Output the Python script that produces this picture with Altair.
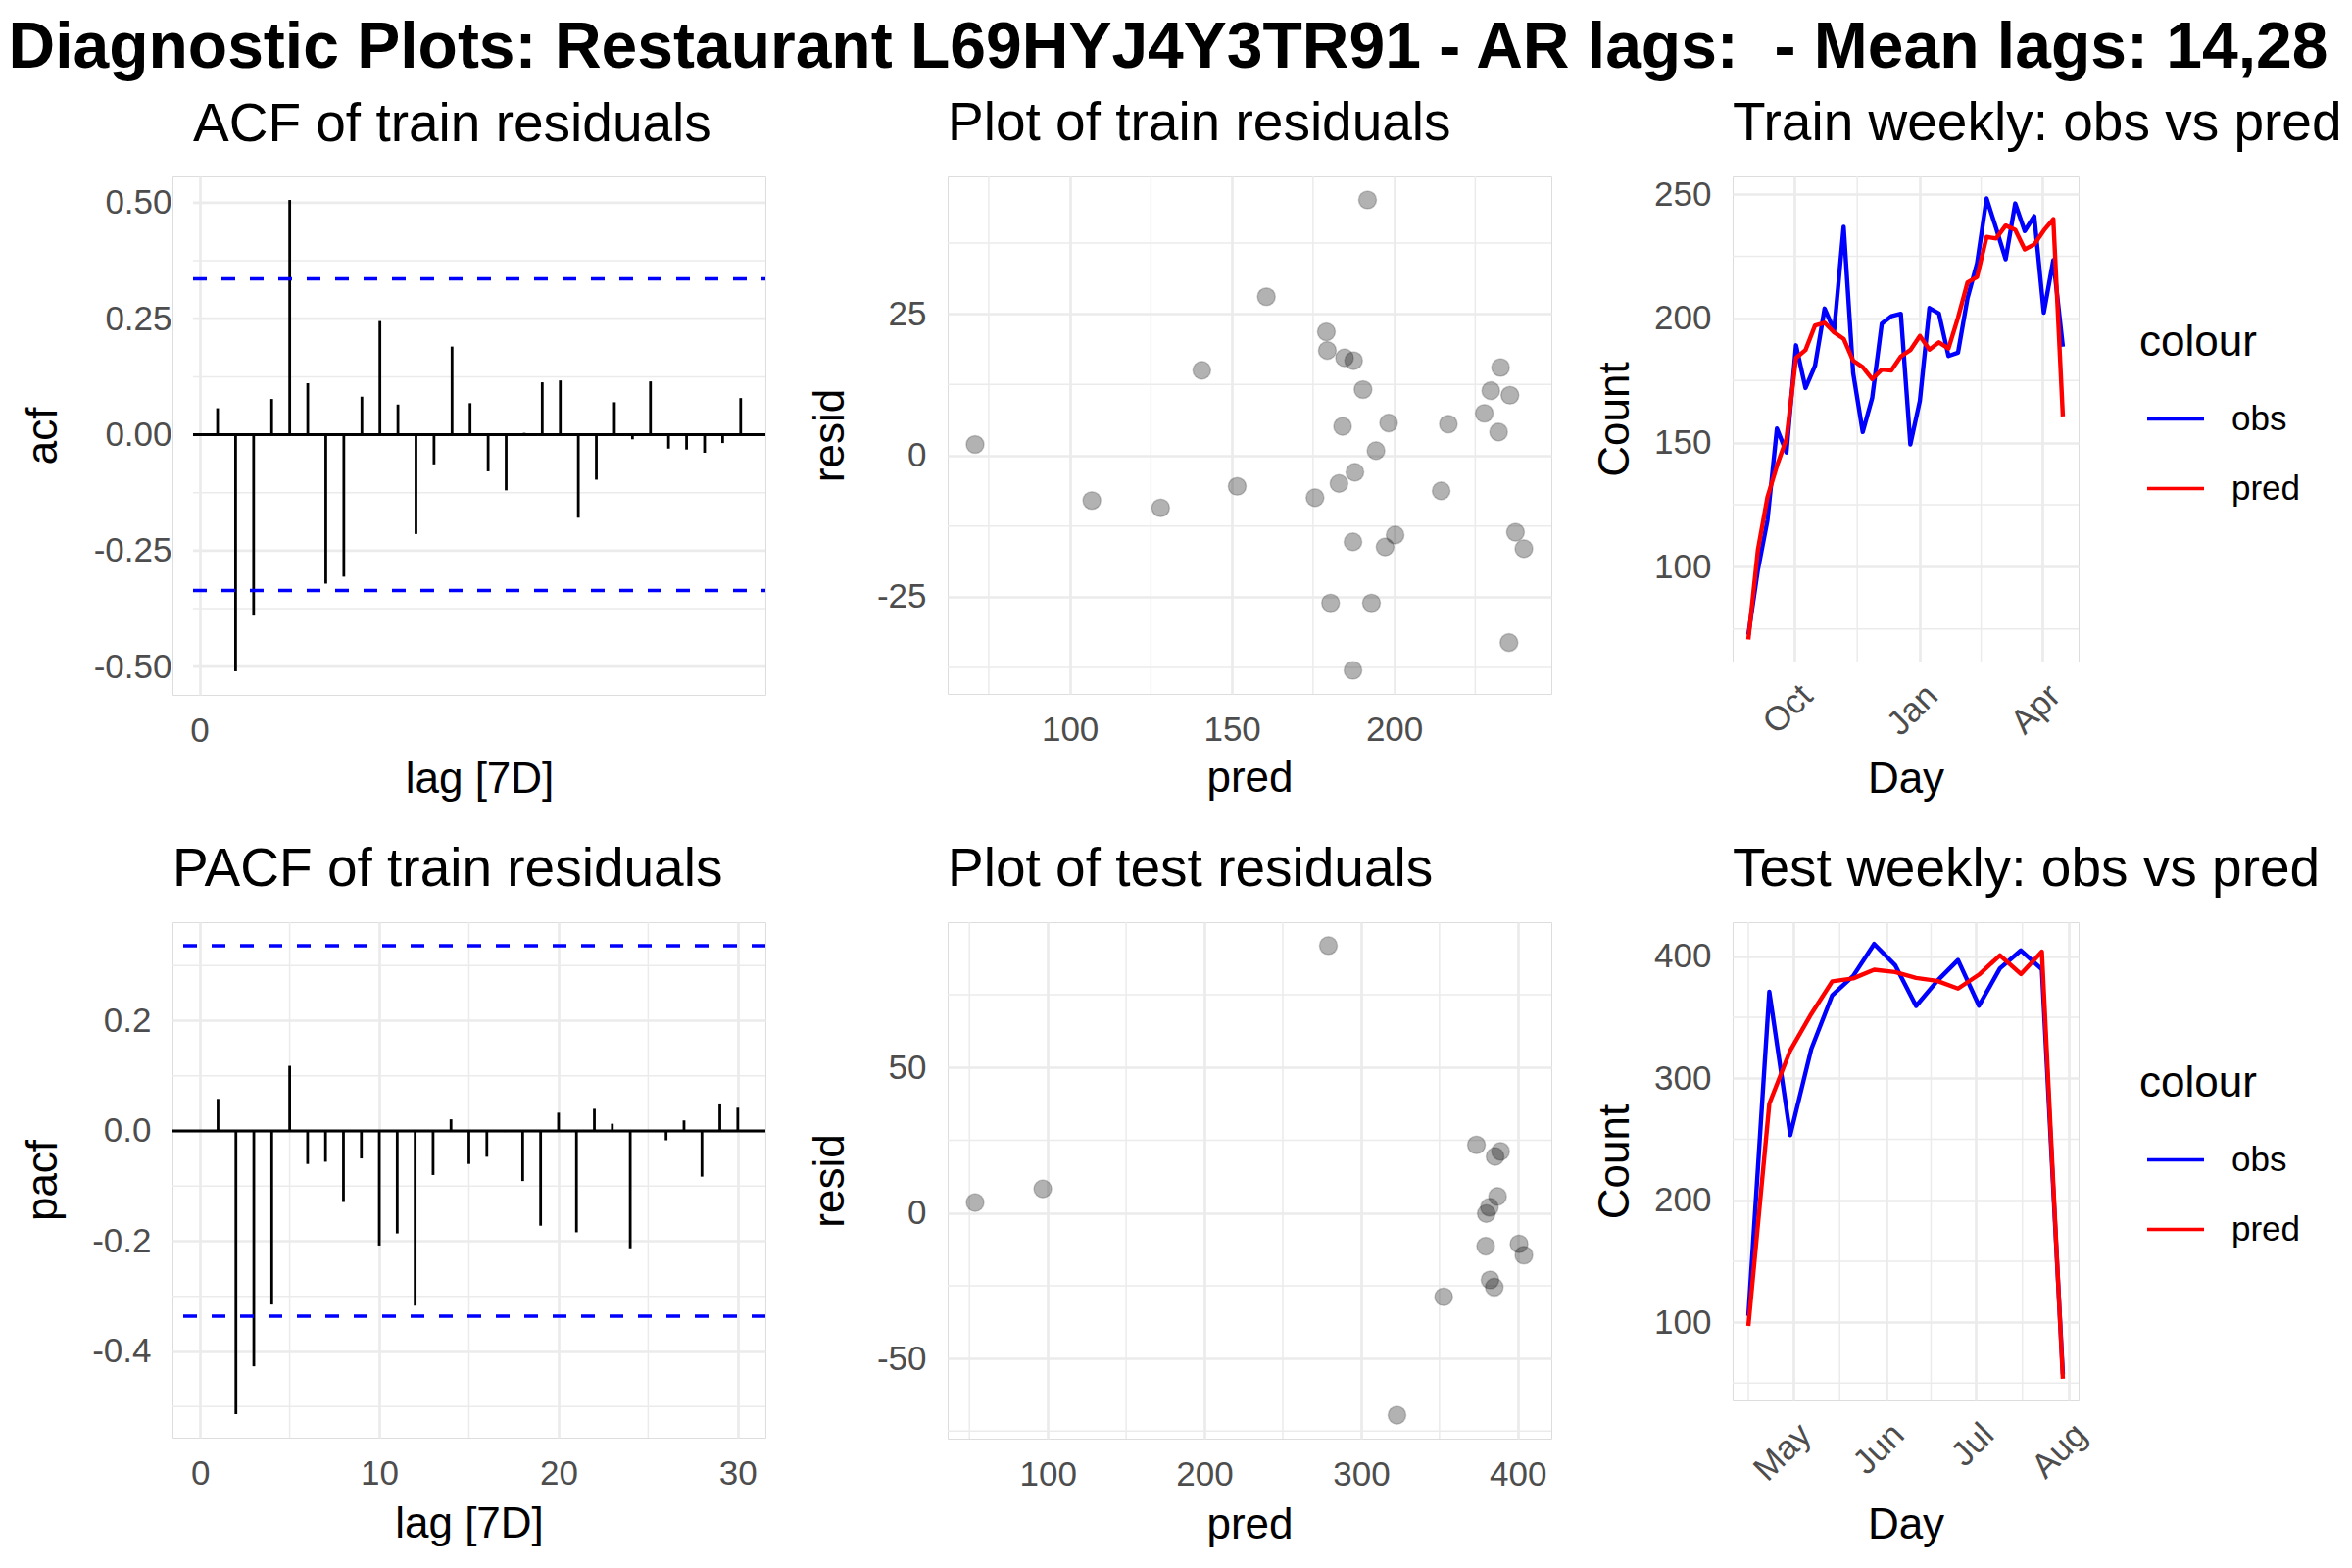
import altair as alt
import pandas as pd

FONT = "Liberation Sans"
GRID = "#EBEBEB"
AXIS_TXT = "#4D4D4D"
OBS_C = "#0000FF"
PRED_C = "#FF0000"

# ---------------- data ----------------
acf_lags = list(range(1, 31))
acf_vals = [0.057, -0.510, -0.390, 0.077, 0.506, 0.111, -0.321, -0.306, 0.082, 0.245,
            0.065, -0.214, -0.064, 0.190, 0.068, -0.079, -0.120, 0.004, 0.113, 0.117,
            -0.179, -0.097, 0.070, -0.010, 0.115, -0.030, -0.032, -0.039, -0.018, 0.079]
pacf_lags = list(range(1, 31))
pacf_vals = [0.058, -0.514, -0.427, -0.315, 0.118, -0.060, -0.056, -0.129, -0.050, -0.208,
             -0.186, -0.317, -0.080, 0.021, -0.060, -0.047, -0.002, -0.091, -0.172, 0.033,
             -0.184, 0.040, 0.013, -0.213, 0.001, -0.017, 0.019, -0.083, 0.048, 0.042]
conf_bound = 0.336

train_start = "2016-08-28"
train_pred = [70.8, 106.8, 128.0, 140.7, 151.6, 184.1, 187.3, 197.2, 198.3, 194.4,
              191.8, 183.0, 180.4, 175.6, 179.4, 179.1, 184.7, 187.3, 193.0, 187.5,
              190.4, 187.9, 200.3, 214.5, 216.7, 232.8, 232.2, 237.4, 235.7, 227.8,
              229.8, 235.4, 240.0, 160.6]
train_resid = [1.9, -8.0, -9.3, 15.0, -5.5, 5.1, -15.3, -16.2, 5.7, 0.8,
               45.1, -5.0, -26.1, -7.5, 18.5, 21.8, 17.2, -38.0, -26.1, 16.7,
               11.6, -3.0, -14.1, -6.3, 5.5, 15.5, 4.1, -13.6, 10.6, 7.4,
               11.4, -33.1, -16.5, 28.0]
train_obs = [72.7, 98.8, 118.7, 155.7, 146.1, 189.2, 172.0, 181.0, 204.0, 195.2,
             236.9, 178.0, 154.3, 168.1, 197.9, 200.9, 201.9, 149.3, 166.9, 204.2,
             202.0, 184.9, 186.2, 208.2, 222.2, 248.3, 236.3, 223.8, 246.3, 235.2,
             241.2, 202.3, 223.5, 188.6]

test_start = "2017-04-16"
test_pred = [96.8, 279.1, 322.9, 352.7, 379.5, 381.9, 389.0, 387.1, 382.3, 379.9,
             373.6, 385.0, 400.8, 385.5, 403.9, 53.6]
test_resid = [8.3, 91.9, -69.5, -28.8, -11.4, 2.0, 21.2, 5.7, -23.0, -0.2,
              23.4, -25.5, -10.6, 19.4, -14.5, 3.6]
test_obs = [105.1, 371.0, 253.4, 323.9, 368.1, 383.9, 410.2, 392.8, 359.3, 379.7,
            397.0, 359.5, 390.2, 404.9, 389.4, 57.2]

# tick / grid break values
acf_x_major = [0]
acf_y_major = [-0.5, -0.25, 0.0, 0.25, 0.5]
acf_y_minor = [-0.375, -0.125, 0.125, 0.375]
pacf_x_major = [0, 10, 20, 30]
pacf_x_minor = [5, 15, 25]
pacf_y_major = [-0.4, -0.2, 0.0, 0.2]
pacf_y_minor = [-0.5, -0.3, -0.1, 0.1, 0.3]
trs_x_major = [100, 150, 200]
trs_x_minor = [75, 125, 175, 225]
trs_y_major = [-25, 0, 25]
trs_y_minor = [-37.5, -12.5, 12.5, 37.5]
tes_x_major = [100, 200, 300, 400]
tes_x_minor = [50, 150, 250, 350]
tes_y_major = [-50, 0, 50]
tes_y_minor = [-75, -25, 25, 75]
trw_y_major = [100, 150, 200, 250]
trw_y_minor = [75, 125, 175, 225]
trw_x_major = ["2016-10-01", "2017-01-01", "2017-04-01"]
trw_x_minor = ["2016-11-16T00:00:00", "2017-02-15T00:00:00"]
tew_y_major = [100, 200, 300, 400]
tew_y_minor = [50, 150, 250, 350]
tew_x_major = ["2017-05-01", "2017-06-01", "2017-07-01", "2017-08-01"]
tew_x_minor = ["2017-04-16T00:00:00", "2017-05-16T12:00:00", "2017-06-16T00:00:00", "2017-07-16T12:00:00"]

# x ranges of the lag panels (the ACF panel is narrower than the PACF one)
acf_x_visible = [-0.36, 31.37]
acf_x_domain = [-1.50, 31.37]
pacf_x_domain = [-1.54, 31.54]

MINUS_FIX = "replace(datum.label, '\u2212', '-')"


def expand(lo, hi, f=0.05):
    r = hi - lo
    return [lo - f * r, hi + f * r]


def dt(ts):
    t = pd.Timestamp(ts)
    return alt.DateTime(year=t.year, month=t.month, date=t.day,
                        hours=t.hour, minutes=t.minute, seconds=t.second)


def y_axis(title, values, fmt, extent, tpad, grid=True, offset=0):
    return alt.Axis(title=title, values=values, format=fmt, labelExpr=MINUS_FIX,
                    grid=grid, gridColor=GRID, gridWidth=2.7, ticks=False, domain=False,
                    labelFont=FONT, labelFontSize=35, labelColor=AXIS_TXT, labelPadding=22,
                    labelAlign="right", labelBaseline="middle", labelFlush=False,
                    labelOverlap=False, titleFont=FONT, titleFontSize=44, titleColor="black",
                    titleFontWeight="normal", titleBaseline="alphabetic", titlePadding=tpad,
                    minExtent=extent, maxExtent=extent, offset=offset)


def x_axis(title, values, fmt, extent, title_x=None):
    kw = {}
    if title_x is not None:
        kw = {"titleX": title_x, "titleAlign": "center"}
    return alt.Axis(title=title, values=values, format=fmt, labelExpr=MINUS_FIX,
                    grid=True, gridColor=GRID, gridWidth=2.7, ticks=False, domain=False,
                    labelFont=FONT, labelFontSize=35, labelColor=AXIS_TXT, labelPadding=47,
                    labelAlign="center", labelBaseline="alphabetic", labelAngle=0,
                    labelFlush=False, labelOverlap=False, titleFont=FONT, titleFontSize=44,
                    titleColor="black", titleFontWeight="normal", titleBaseline="alphabetic",
                    titlePadding=0, minExtent=extent, maxExtent=extent, **kw)


def x_time_axis(values, extent):
    return alt.Axis(title="Day", values=[dt(v) for v in values], format="%b",
                    grid=True, gridColor=GRID, gridWidth=2.7, ticks=False, domain=False,
                    labelFont=FONT, labelFontSize=35, labelColor=AXIS_TXT, labelPadding=17,
                    labelAngle=315, labelAlign="right", labelBaseline="top",
                    labelFlush=False, labelOverlap=False, titleFont=FONT, titleFontSize=44,
                    titleColor="black", titleFontWeight="normal", titleBaseline="alphabetic",
                    titlePadding=0, minExtent=extent, maxExtent=extent)


def sub_title(text, dx=0):
    return alt.TitleParams(text=text, anchor="start", frame="group", offset=-19, dx=dx,
                           baseline="alphabetic", font=FONT, fontSize=55,
                           fontWeight="normal", color="black")


def hrules(vals, ys, yax, width=1.5):
    return alt.Chart(pd.DataFrame({"v": vals})).mark_rule(
        color=GRID, strokeWidth=width).encode(y=alt.Y("v:Q", scale=ys, axis=yax))


def hrules_span(vals, xs, ys, xax, yax, span, width, color=GRID, dash=None):
    df = pd.DataFrame({"v": vals, "x0": [span[0]] * len(vals), "x1": [span[1]] * len(vals)})
    mk = {"color": color, "strokeWidth": width}
    if dash:
        mk["strokeDash"] = dash
    return alt.Chart(df).mark_rule(**mk).encode(
        y=alt.Y("v:Q", scale=ys, axis=yax), x=alt.X("x0:Q", scale=xs, axis=xax), x2="x1:Q")


def vrules(vals, xs, xax, typ="Q"):
    if typ == "T":
        df = pd.DataFrame({"v": pd.to_datetime(vals)})
    else:
        df = pd.DataFrame({"v": vals})
    return alt.Chart(df).mark_rule(color=GRID, strokeWidth=1.5).encode(
        x=alt.X("v:" + typ, scale=xs, axis=xax))


def acf_chart():
    lo = min(min(acf_vals), -conf_bound)
    hi = max(max(acf_vals), conf_bound)
    xs = alt.Scale(domain=acf_x_domain, nice=False, zero=False)
    ys = alt.Scale(domain=expand(lo, hi), nice=False, zero=False)
    xax = x_axis("lag [7D]", acf_x_major, "d", 99, title_x=313)
    yax = y_axis("acf", acf_y_major, ".2f", 105, 35, grid=False, offset=-21)
    df = pd.DataFrame({"lag": acf_lags, "val": acf_vals, "base": [0.0] * len(acf_lags)})
    major = hrules_span(acf_y_major, xs, ys, xax, yax, acf_x_visible, 2.7)
    minor = hrules_span(acf_y_minor, xs, ys, xax, yax, acf_x_visible, 1.5)
    zero = hrules_span([0.0], xs, ys, xax, yax, acf_x_visible, 3, color="black")
    bars = alt.Chart(df).mark_rule(color="black", strokeWidth=2.8).encode(
        x=alt.X("lag:Q", scale=xs, axis=xax),
        y=alt.Y("val:Q", scale=ys, axis=yax),
        y2="base:Q")
    conf = hrules_span([conf_bound, -conf_bound], xs, ys, xax, yax, acf_x_visible, 3.5,
                       color="#0000FF", dash=[14, 15])
    return alt.layer(major, minor, zero, bars, conf).properties(
        width=605, height=529, title=sub_title("ACF of train residuals", dx=21))


def pacf_chart():
    lo = min(min(pacf_vals), -conf_bound)
    hi = max(max(pacf_vals), conf_bound)
    xs = alt.Scale(domain=pacf_x_domain, nice=False, zero=False)
    ys = alt.Scale(domain=expand(lo, hi), nice=False, zero=False)
    xax = x_axis("lag [7D]", pacf_x_major, "d", 101)
    yax = y_axis("pacf", pacf_y_major, ".1f", 84, 35)
    df = pd.DataFrame({"lag": pacf_lags, "val": pacf_vals, "base": [0.0] * len(pacf_lags)})
    zero = alt.Chart(pd.DataFrame({"z": [0.0]})).mark_rule(
        color="black", strokeWidth=3).encode(y=alt.Y("z:Q", scale=ys, axis=yax))
    bars = alt.Chart(df).mark_rule(color="black", strokeWidth=2.8).encode(
        x=alt.X("lag:Q", scale=xs, axis=xax),
        y=alt.Y("val:Q", scale=ys, axis=yax),
        y2="base:Q")
    conf = alt.Chart(pd.DataFrame({"c": [conf_bound, -conf_bound]})).mark_rule(
        color="#0000FF", strokeWidth=3.5, strokeDash=[14, 15]).encode(
        y=alt.Y("c:Q", scale=ys, axis=yax))
    return alt.layer(hrules(pacf_y_minor, ys, yax), vrules(pacf_x_minor, xs, xax),
                     zero, bars, conf).properties(
        width=605, height=526, title=sub_title("PACF of train residuals"))


def resid_chart(pred, resid, title, w, h, x_major, x_minor, y_major, y_minor, x_ext):
    xs = alt.Scale(domain=expand(min(pred), max(pred)), nice=False, zero=False)
    ys = alt.Scale(domain=expand(min(resid), max(resid)), nice=False, zero=False)
    xax = x_axis("pred", x_major, "d", x_ext)
    yax = y_axis("resid", y_major, "d", 73, 34)
    df = pd.DataFrame({"pred": pred, "resid": resid})
    pts = alt.Chart(df).mark_point(filled=True, shape="circle", size=330, fill="black",
                                   fillOpacity=0.3, stroke="black", strokeOpacity=0.18,
                                   strokeWidth=1.5).encode(
        x=alt.X("pred:Q", scale=xs, axis=xax),
        y=alt.Y("resid:Q", scale=ys, axis=yax))
    return alt.layer(hrules(y_minor, ys, yax), vrules(x_minor, xs, xax), pts).properties(
        width=w, height=h, title=sub_title(title))


def weekly_chart(start, obs, pred, title, w, h, x_major, x_minor, y_major, y_minor,
                 x_ext, legend_y):
    dates = pd.date_range(start, periods=len(obs), freq="7D")
    df = pd.DataFrame({
        "date": list(dates) + list(dates),
        "value": list(obs) + list(pred),
        "series": ["obs"] * len(obs) + ["pred"] * len(pred),
    })
    r = dates[-1] - dates[0]
    xs = alt.Scale(domain=[dt(dates[0] - r * 0.05), dt(dates[-1] + r * 0.05)], nice=False)
    allv = list(obs) + list(pred)
    ys = alt.Scale(domain=expand(min(allv), max(allv)), nice=False, zero=False)
    xax = x_time_axis(x_major, x_ext)
    yax = y_axis("Count", y_major, "d", 82, 25)
    legend = alt.Legend(title="colour", orient="none", legendX=415, legendY=legend_y,
                        titleFont=FONT, titleFontSize=44, titleColor="black",
                        titleFontWeight="normal", titleBaseline="top", titlePadding=24.5,
                        labelFont=FONT, labelFontSize=35, labelColor="black",
                        labelBaseline="middle", labelOffset=26, symbolType="stroke",
                        symbolSize=3364, symbolStrokeWidth=3.5, symbolOffset=6,
                        rowPadding=22, padding=0)
    lines = alt.Chart(df).mark_line(strokeWidth=4.4, strokeJoin="round").encode(
        x=alt.X("date:T", scale=xs, axis=xax),
        y=alt.Y("value:Q", scale=ys, axis=yax),
        color=alt.Color("series:N", scale=alt.Scale(domain=["obs", "pred"],
                                                    range=[OBS_C, PRED_C]),
                        legend=legend))
    return alt.layer(hrules(y_minor, ys, yax), vrules(x_minor, xs, xax, "T"), lines).properties(
        width=w, height=h, title=sub_title(title))


acf = acf_chart()
pacf = pacf_chart()
train_sc = resid_chart(train_pred, train_resid, "Plot of train residuals", 616, 528,
                       trs_x_major, trs_x_minor, trs_y_major, trs_y_minor, 99)
test_sc = resid_chart(test_pred, test_resid, "Plot of test residuals", 616, 527,
                      tes_x_major, tes_x_minor, tes_y_major, tes_y_minor, 101)
train_wk = weekly_chart(train_start, train_obs, train_pred, "Train weekly: obs vs pred",
                        353, 495, trw_x_major, trw_x_minor, trw_y_major, trw_y_minor,
                        133, 148)
test_wk = weekly_chart(test_start, test_obs, test_pred, "Test weekly: obs vs pred",
                       353, 488, tew_x_major, tew_x_minor, tew_y_major, tew_y_minor,
                       140, 143)

row1 = alt.hconcat(acf, train_sc, train_wk, spacing=40, bounds="full").resolve_scale(
    x="independent", y="independent", color="independent").resolve_legend(color="independent")
row2 = alt.hconcat(pacf, test_sc, test_wk, spacing=40, bounds="full").resolve_scale(
    x="independent", y="independent", color="independent").resolve_legend(color="independent")

main_title = alt.TitleParams(
    text="Diagnostic Plots: Restaurant L69HYJ4Y3TR91 - AR lags: \u00a0- Mean lags: 14,28",
    font=FONT, fontSize=66, fontWeight="bold", color="black", anchor="start",
    frame="bounds", baseline="alphabetic", offset=-36, dx=-13)

chart = alt.concat(row1, row2, columns=1, spacing=41, align="none", bounds="full",
                   title=main_title).resolve_scale(
    x="independent", y="independent", color="independent").resolve_legend(
    color="independent").properties(
    padding={"left": 0, "top": 7, "right": 0, "bottom": 8},
    background="white").configure_view(stroke="transparent", strokeWidth=0).configure(font=FONT)

chart.save("out.html", embed_options={"renderer": "svg", "actions": False})
